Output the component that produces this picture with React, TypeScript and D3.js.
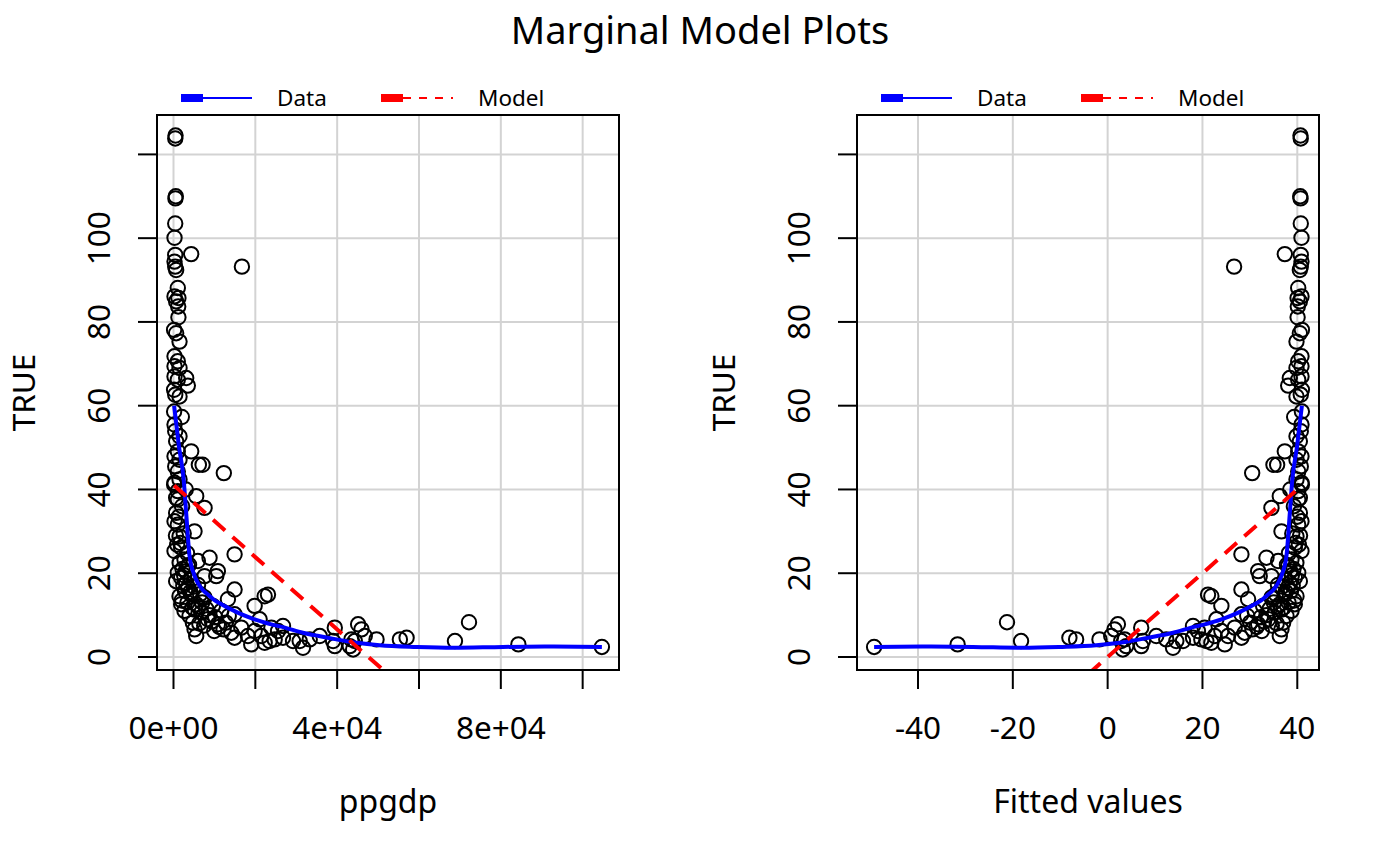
import React from "react";
import * as d3 from "d3";

// ppgdp and infant mortality
const ppgdp = [
  499, 430, 560, 470, 420, 250, 4322, 420, 250, 420,
  650, 16720, 1050, 250, 1200, 650, 1150, 1200, 150, 650,
  1470, 250, 1050, 250, 1470, 250, 3100, 1050, 3500, 150,
  420, 1470, 150, 2030, 250, 420, 1470, 650, 4330, 1050,
  250, 6200, 7100, 1470, 420, 1050, 12300, 250, 1470, 1050,
  5550, 650, 150, 1050, 7590, 650, 250, 1050, 5140, 1470,
  250, 14930, 1880, 2690, 8810, 5950, 3500, 1050, 10840, 10450,
  1880, 4330, 650, 3100, 7590, 14930, 22280, 23090, 1470, 4330,
  7590, 13300, 1880, 5550, 19830, 9620, 2690, 11680, 6780, 3920,
  14930, 21050, 8400, 4730, 10840, 16570, 5140, 12240, 9950, 14120,
  5550, 19830, 18200, 21460, 23920, 25550, 19000, 22280, 24730, 14930,
  23500, 26760, 29210, 31650, 30840, 33290, 35740, 39420, 39420, 39000,
  43080, 43490, 45120, 45940, 46750, 44310, 43900, 49620, 55330, 56970,
  68790, 72220, 84290, 104700, 26760,
  1500, 2200, 2600, 3000, 3300, 3800, 2400, 2800, 3600, 4100,
  5000, 6000, 6500, 2000, 3400, 4600, 5200, 6100, 7000, 8000,
  8800, 9400, 10200, 11200, 12800, 13500, 6300, 7500, 1700, 2500,
  900, 1300, 600, 2100, 3000,
];

const infantMortality = [
  124.5, 123.8, 110.0, 109.5, 103.5, 100.1, 96.2, 96.0, 94.4, 93.2,
  92.4, 93.2, 88.1, 86.1, 85.7, 84.9, 83.7, 81.1, 78.1, 77.3,
  75.3, 71.8, 70.6, 69.4, 69.0, 67.0, 66.6, 66.2, 64.8, 63.8,
  62.6, 62.2, 58.6, 57.3, 55.5, 53.9, 52.7, 51.5, 49.1, 49.1,
  47.9, 45.9, 45.9, 47.1, 45.5, 44.3, 43.9, 41.6, 42.4, 39.6,
  38.4, 38.0, 41.2, 37.6, 35.6, 34.4, 32.4, 31.6, 30.0, 28.8,
  25.3, 24.5, 26.1, 23.3, 23.7, 22.9, 21.7, 20.1, 20.5, 19.3,
  18.9, 18.5, 18.1, 17.7, 19.3, 16.1, 14.5, 14.9, 14.5, 14.9,
  14.2, 13.8, 12.6, 12.6, 12.2, 12.2, 11.0, 11.0, 10.6, 9.8,
  10.2, 9.0, 9.0, 8.2, 7.8, 7.0, 6.6, 6.6, 6.2, 5.8,
  5.0, 6.2, 5.0, 5.0, 7.0, 6.2, 3.0, 3.4, 4.2, 4.6,
  3.8, 4.6, 3.8, 2.2, 3.8, 4.2, 5.0, 7.0, 2.6, 3.8,
  2.6, 4.2, 7.8, 6.6, 5.0, 3.8, 1.8, 4.2, 4.2, 4.6,
  3.8, 8.3, 3.0, 2.4, 7.4,
  22.5, 21.0, 19.5, 20.5, 24.8, 22.0, 17.0, 15.8, 16.5, 15.5,
  16.8, 17.2, 15.0, 13.5, 13.0, 11.8, 11.3, 12.0, 13.0, 11.5,
  10.0, 8.5, 9.5, 7.2, 8.2, 9.8, 8.0, 7.5, 27.2, 29.5,
  26.8, 33.5, 29.0, 36.0, 40.0,
];

// loess smooth of the data (blue)
const smoothPpgdp = [
  150, 1300, 2500, 3100, 3900, 5000, 5950, 7000, 8400, 10000,
  11700, 15700, 19800, 23900, 27200, 31600, 35500, 39800, 44700, 50400,
  59400, 68300, 80500, 92800, 104700,
];
const smoothValue = [
  60.0, 50.5, 42.2, 34.4, 24.3, 19.8, 17.7, 16.2, 14.9, 13.6,
  12.6, 10.6, 9.0, 7.8, 7.0, 5.8, 5.0, 4.2, 3.4, 2.8,
  2.4, 2.2, 2.4, 2.5, 2.4,
];

// linear model: infantMortality ~ ppgdp
const modelIntercept = 41.1;
const modelSlope = -0.000863;

const leftTicks = [0, 20000, 40000, 60000, 80000, 100000];
const leftTickLabels = ["0e+00", "", "4e+04", "", "8e+04", ""];
const rightTicks = [-40, -20, 0, 20, 40];
const rightTickLabels = ["-40", "-20", "0", "20", "40"];
const yTicks = [0, 20, 40, 60, 80, 100, 120];
const yTickLabels = ["0", "20", "40", "60", "80", "100", ""];

const W = 1400;
const H = 866;
const plotTop = 115;
const plotBottom = 670;
const plotW = 462;
const font = "'Noto Sans', 'Open Sans', sans-serif";
const axisFont = 31.5;

const fitted = ppgdp.map((p) => modelIntercept + modelSlope * p);
const smoothFitted = smoothPpgdp.map((p) => modelIntercept + modelSlope * p);

// R style axis range: data extent plus 4% on each side
const rExtent = (v: number[]): [number, number] => {
  const [lo, hi] = d3.extent(v) as [number, number];
  const pad = (hi - lo) * 0.04;
  return [lo - pad, hi + pad];
};

type PanelProps = {
  id: string;
  left: number;
  xs: number[];
  smoothX: number[];
  modelX: number[];
  modelY: number[];
  ticks: number[];
  tickLabels: string[];
  xLabel: string;
};

const Panel = (props: PanelProps) => {
  const { id, left, xs, smoothX, modelX, modelY, ticks, tickLabels, xLabel } = props;
  const x = d3.scaleLinear().domain(rExtent(xs)).range([left, left + plotW]);
  const y = d3.scaleLinear().domain(rExtent(infantMortality)).range([plotBottom, plotTop]);

  const smoothPts: [number, number][] = smoothX
    .map((v, i) => [v, smoothValue[i]] as [number, number])
    .sort((a, b) => a[0] - b[0]);
  const line = d3
    .line<[number, number]>()
    .x((d) => x(d[0]))
    .y((d) => y(d[1]))
    .curve(d3.curveMonotoneX);
  const modelPts: [number, number][] = modelX.map((v, i) => [v, modelY[i]]);
  const straight = d3
    .line<[number, number]>()
    .x((d) => x(d[0]))
    .y((d) => y(d[1]));

  const right = left + plotW;
  const legendY = 98;

  return (
    <g>
      <defs>
        <clipPath id={id}>
          <rect x={left} y={plotTop} width={plotW} height={plotBottom - plotTop} />
        </clipPath>
      </defs>
      {/* grid */}
      {ticks.map((t) => (
        <line key={"gx" + t} x1={x(t)} x2={x(t)} y1={plotTop} y2={plotBottom} stroke="#d3d3d3" strokeWidth={2} />
      ))}
      {yTicks.map((t) => (
        <line key={"gy" + t} x1={left} x2={right} y1={y(t)} y2={y(t)} stroke="#d3d3d3" strokeWidth={2} />
      ))}
      <g clipPath={`url(#${id})`}>
        {xs.map((v, i) => (
          <circle key={i} cx={x(v)} cy={y(infantMortality[i])} r={7.2} fill="none" stroke="#000" strokeWidth={2} />
        ))}
        <path d={line(smoothPts) || ""} fill="none" stroke="#0000ff" strokeWidth={4} />
        <path d={straight(modelPts) || ""} fill="none" stroke="#ff0000" strokeWidth={4} strokeDasharray="16 10" />
      </g>
      <rect x={left} y={plotTop} width={plotW} height={plotBottom - plotTop} fill="none" stroke="#000" strokeWidth={2} />
      {/* x axis */}
      {ticks.map((t, i) => (
        <g key={"tx" + t}>
          <line x1={x(t)} x2={x(t)} y1={plotBottom} y2={plotBottom + 19} stroke="#000" strokeWidth={2} />
          <text x={x(t)} y={739} textAnchor="middle" fontSize={axisFont} fontFamily={font}>
            {tickLabels[i]}
          </text>
        </g>
      ))}
      <text x={left + plotW / 2} y={813} textAnchor="middle" fontSize={axisFont + 0.5} fontFamily={font}>
        {xLabel}
      </text>
      {/* y axis */}
      {yTicks.map((t, i) => (
        <g key={"ty" + t}>
          <line x1={left} x2={left - 19} y1={y(t)} y2={y(t)} stroke="#000" strokeWidth={2} />
          <text
            transform={`translate(${left - 47},${y(t)}) rotate(-90)`}
            textAnchor="middle"
            fontSize={axisFont}
            fontFamily={font}
          >
            {yTickLabels[i]}
          </text>
        </g>
      ))}
      <text
        transform={`translate(${left - 122},${(plotTop + plotBottom) / 2}) rotate(-90)`}
        textAnchor="middle"
        fontSize={axisFont}
        fontFamily={font}
      >
        TRUE
      </text>
      {/* legend */}
      <line x1={left + 24} x2={left + 95} y1={legendY} y2={legendY} stroke="#0000ff" strokeWidth={2} />
      <rect x={left + 24} y={legendY - 4} width={22} height={8} fill="#0000ff" />
      <text x={left + 120} y={legendY + 8} fontSize={22.5} fontFamily={font}>
        Data
      </text>
      <line x1={left + 246} x2={left + 296} y1={legendY} y2={legendY} stroke="#ff0000" strokeWidth={2} strokeDasharray="8 8" />
      <rect x={left + 224} y={legendY - 4} width={22} height={8} fill="#ff0000" />
      <text x={left + 321} y={legendY + 8} fontSize={22.5} fontFamily={font}>
        Model
      </text>
    </g>
  );
};

export default function App() {
  const pLo = d3.min(ppgdp) as number;
  const pHi = d3.max(ppgdp) as number;
  const fLo = d3.min(fitted) as number;
  const fHi = d3.max(fitted) as number;
  return (
    <svg
      width={W}
      height={H}
      viewBox={`0 0 ${W} ${H}`}
      style={{ position: "absolute", left: 0, top: 0, background: "#fff" }}
    >
      <rect width={W} height={H} fill="#fff" />
      <text x={700} y={44} textAnchor="middle" fontSize={38} fontFamily={font}>
        Marginal Model Plots
      </text>
      <Panel
        id="clipLeft"
        left={157}
        xs={ppgdp}
        smoothX={smoothPpgdp}
        modelX={[pLo, pHi]}
        modelY={[modelIntercept + modelSlope * pLo, modelIntercept + modelSlope * pHi]}
        ticks={leftTicks}
        tickLabels={leftTickLabels}
        xLabel="ppgdp"
      />
      <Panel
        id="clipRight"
        left={857}
        xs={fitted}
        smoothX={smoothFitted}
        modelX={[fLo, fHi]}
        modelY={[fLo, fHi]}
        ticks={rightTicks}
        tickLabels={rightTickLabels}
        xLabel="Fitted values"
      />
    </svg>
  );
}
